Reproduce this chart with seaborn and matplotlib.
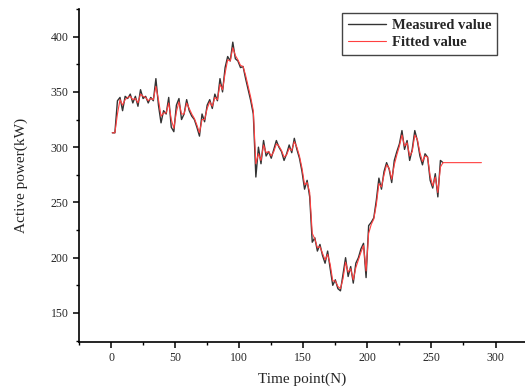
import numpy as np
import pandas as pd
import matplotlib
matplotlib.use('Agg')
import matplotlib.pyplot as plt
from matplotlib.ticker import MultipleLocator
import seaborn as sns

# time points (every 2nd sample)
time_pts = list(range(1, 261, 2))

measured = [313, 313, 342, 345, 333, 346, 344, 348, 340, 346,
            337, 352, 344, 346, 340, 345, 342, 362, 338, 322,
            333, 330, 345, 318, 314, 338, 344, 325, 330, 343,
            333, 328, 325, 318, 310, 330, 323, 338, 343, 335,
            348, 342, 362, 350, 372, 382, 378, 395, 380, 378,
            372, 373, 362, 352, 342, 330, 273, 300, 285, 306,
            292, 296, 290, 298, 306, 300, 296, 288, 294, 302,
            295, 308, 298, 290, 278, 262, 270, 255, 214, 218,
            206, 212, 202, 195, 206, 190, 175, 180, 172, 170,
            185, 200, 183, 192, 177, 195, 200, 208, 213, 182,
            229, 232, 236, 252, 272, 262, 278, 286, 280, 268,
            288, 296, 303, 315, 298, 306, 288, 298, 315, 306,
            292, 284, 294, 291, 270, 263, 276, 255, 288, 286]

fitted = [313, 313, 330, 343, 338, 343, 345, 346, 343, 344,
          340, 348, 346, 345, 342, 344, 343, 355, 343, 328,
          331, 331, 340, 325, 317, 332, 341, 330, 330, 340,
          335, 330, 326, 320, 313, 325, 325, 335, 341, 337,
          345, 343, 357, 352, 367, 379, 378, 390, 383, 379,
          374, 373, 365, 355, 345, 333, 285, 294, 288, 302,
          295, 296, 292, 296, 303, 301, 297, 291, 293, 299,
          297, 305, 300, 292, 281, 266, 268, 259, 222, 217,
          209, 210, 204, 198, 203, 194, 179, 179, 174, 172,
          181, 196, 187, 190, 180, 191, 198, 205, 211, 188,
          222, 230, 235, 248, 267, 264, 275, 284, 281, 271,
          284, 293, 301, 311, 301, 304, 292, 296, 311, 307,
          295, 287, 292, 291, 274, 265, 273, 259, 282, 286]

# fitted line is extended flat after the last sample
fit_tail_x = [289]
fit_tail_y = [286]

x_ticks = [0, 50, 100, 150, 200, 250, 300]
y_ticks = [150, 200, 250, 300, 350, 400]

df_meas = pd.DataFrame({'t': time_pts, 'p': measured})
df_fit = pd.DataFrame({'t': time_pts + fit_tail_x, 'p': fitted + fit_tail_y})

sns.set_style('ticks')
plt.rcParams['font.family'] = ['Liberation Serif', 'DejaVu Serif']

fig = plt.figure(figsize=(5.25, 3.92), dpi=100)
ax = fig.add_axes([79 / 525, 1 - 341.7 / 392, 1 - 79 / 525, (341.7 - 9) / 392])

sns.lineplot(data=df_meas, x='t', y='p', color='#333333', lw=1.0,
             label='Measured value', ax=ax)
sns.lineplot(data=df_fit, x='t', y='p', color='#ff4040', lw=0.8,
             label='Fitted value', ax=ax)

ax.set_xlim(-25, 323)
ax.set_ylim(124, 425)
ax.set_xticks(x_ticks)
ax.set_yticks(y_ticks)
ax.xaxis.set_minor_locator(MultipleLocator(25))
ax.yaxis.set_minor_locator(MultipleLocator(25))
ax.tick_params(which='major', direction='out', length=4, width=1.1,
               labelsize=8.5, color='black')
ax.tick_params(which='minor', direction='out', length=2.5, width=1.0,
               color='black')

sns.despine(ax=ax)
for s in ['left', 'bottom']:
    ax.spines[s].set_linewidth(1.2)
    ax.spines[s].set_color('black')

ax.set_xlabel('Time point(N)', fontsize=11, labelpad=6)
ax.set_ylabel('Active power(kW)', fontsize=11, labelpad=16)

leg = ax.legend(loc='upper right', bbox_to_anchor=(0.947, 0.966),
                bbox_transform=fig.transFigure, fancybox=False,
                edgecolor='#444444', framealpha=1, fontsize=10.5,
                handlelength=2.6, borderpad=0.4, labelspacing=0.25,
                handletextpad=0.4, borderaxespad=0)
leg.get_frame().set_linewidth(1.0)
for t in leg.get_texts():
    t.set_fontweight('bold')

fig.savefig('out.png', dpi=100)
